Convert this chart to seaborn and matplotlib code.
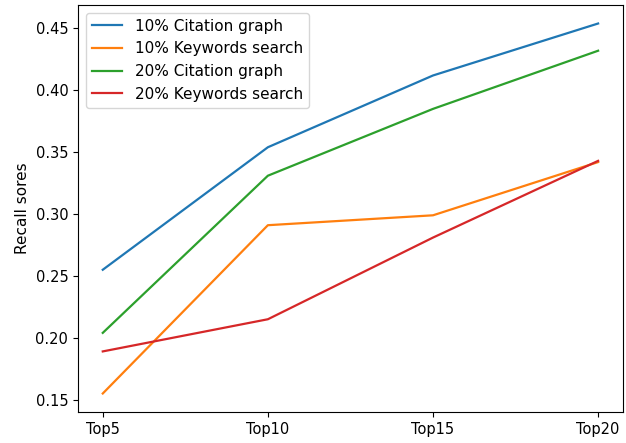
import matplotlib
matplotlib.use("Agg")
import matplotlib.pyplot as plt
import pandas as pd
import seaborn as sns


TOP_K = ["Top5", "Top10", "Top15", "Top20"]
CITATION_10 = [0.255, 0.354, 0.412, 0.454]
KEYWORDS_10 = [0.155, 0.291, 0.299, 0.342]
CITATION_20 = [0.204, 0.331, 0.385, 0.432]
KEYWORDS_20 = [0.189, 0.215, 0.281, 0.343]

SERIES = {
    "10% Citation graph": CITATION_10,
    "10% Keywords search": KEYWORDS_10,
    "20% Citation graph": CITATION_20,
    "20% Keywords search": KEYWORDS_20,
}


def build_frame():
    rows = []
    for name, values in SERIES.items():
        for k, v in zip(TOP_K, values):
            rows.append({"k": k, "recall": v, "method": name})
    return pd.DataFrame(rows)


def main():
    data = build_frame()
    figure, axis = plt.subplots(figsize=(6.26, 4.43), dpi=100)
    sns.lineplot(
        data=data,
        x="k",
        y="recall",
        hue="method",
        palette=sns.color_palette("tab10", 4),
        sort=False,
        linewidth=1.6,
        ax=axis,
    )
    axis.set_xlabel("")
    axis.set_ylabel("Recall sores", fontsize=11)
    axis.tick_params(axis="both", labelsize=10.5)
    handles, labels = axis.get_legend_handles_labels()
    axis.legend(handles, labels, loc="upper left", fontsize=11)
    figure.subplots_adjust(left=0.1246, right=0.995, bottom=0.070, top=0.9887)
    figure.savefig("out.png", dpi=100)
    plt.close(figure)


if __name__ == "__main__":
    main()
